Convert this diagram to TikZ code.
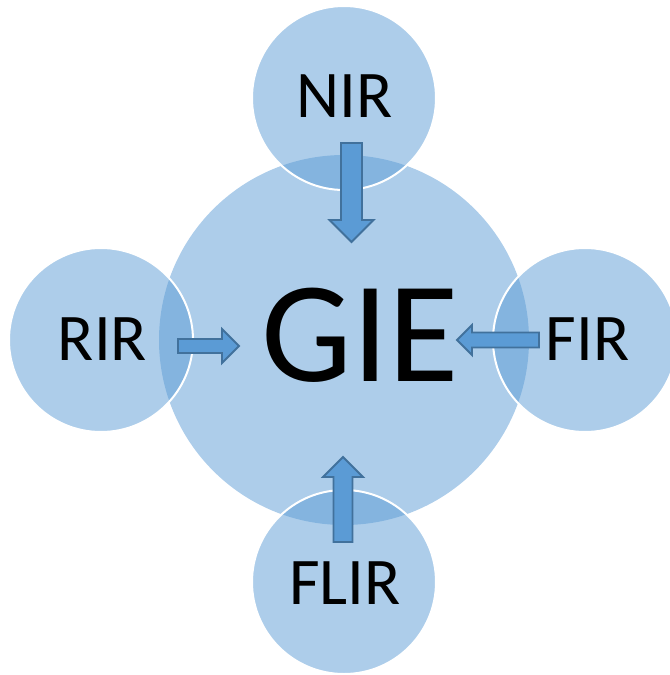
\documentclass[tikz,border=0pt]{standalone}
\usepackage{fontspec}
\setmainfont{Carlito}
\definecolor{accent}{HTML}{5B9BD5}
\definecolor{accentdark}{HTML}{41719C}
\tikzset{
  hub/.style={circle, inner sep=0pt, minimum size=277.5pt, fill=accent, fill opacity=0.5},
  source/.style={circle, inner sep=0pt, minimum size=138pt, fill=accent, fill opacity=0.5,
    draw=white, draw opacity=1, line width=1.5pt},
  biglabel/.style={inner sep=0pt, anchor=base, font=\fontsize{108}{108}\selectfont},
  smalllabel/.style={inner sep=0pt, anchor=base, font=\fontsize{50}{50}\selectfont},
  arrowbody/.style={fill=accent, draw=accentdark, line width=1.4pt, line join=miter},
  % block arrow along local +x: length / shaft half width / head half width
  pics/blockarrow/.style args={#1/#2/#3}{code={
    \path[arrowbody] (0,-#2) -- ({#1-#3},-#2) -- ({#1-#3},-#3) -- (#1,0)
      -- ({#1-#3},#3) -- ({#1-#3},#2) -- (0,#2) -- cycle;
  }}
}
\begin{document}
\begin{tikzpicture}[x=0.75pt,y=-0.75pt]
  \path[use as bounding box] (0,0) rectangle (670,675);
  \clip (0,0) rectangle (670,675);

  % central circle and the four sources around it
  \node[hub] (gie) at (344,340) {};
  \node[source] (nir) at (344,98) {};
  \node[source] (rir) at (101,340) {};
  \node[source] (fir) at (585,340) {};
  \node[source] (flir) at (344,582) {};

  % block arrows pointing into the centre
  \coordinate (nirA) at (351.5,143);
  \coordinate (rirA) at (178,346);
  \coordinate (firA) at (539,340);
  \coordinate (flirA) at (343,542);
  \pic[rotate=-90] at (nirA) {blockarrow=99/10.5/22};
  \pic at (rirA) {blockarrow=61/7/17};
  \pic[rotate=180] at (firA) {blockarrow=82/7.5/15};
  \pic[rotate=90] at (flirA) {blockarrow=85/9.5/20};

  % labels
  \node[biglabel] (gieT) at (360,381) {GIE};
  \node[smalllabel] (nirT) at (344.5,117) {NIR};
  \node[smalllabel] (rirT) at (102.5,360) {RIR};
  \node[smalllabel] (firT) at (587.5,360) {FIR};
  \node[smalllabel] (flirT) at (345,604) {FLIR};
\end{tikzpicture}
\end{document}
